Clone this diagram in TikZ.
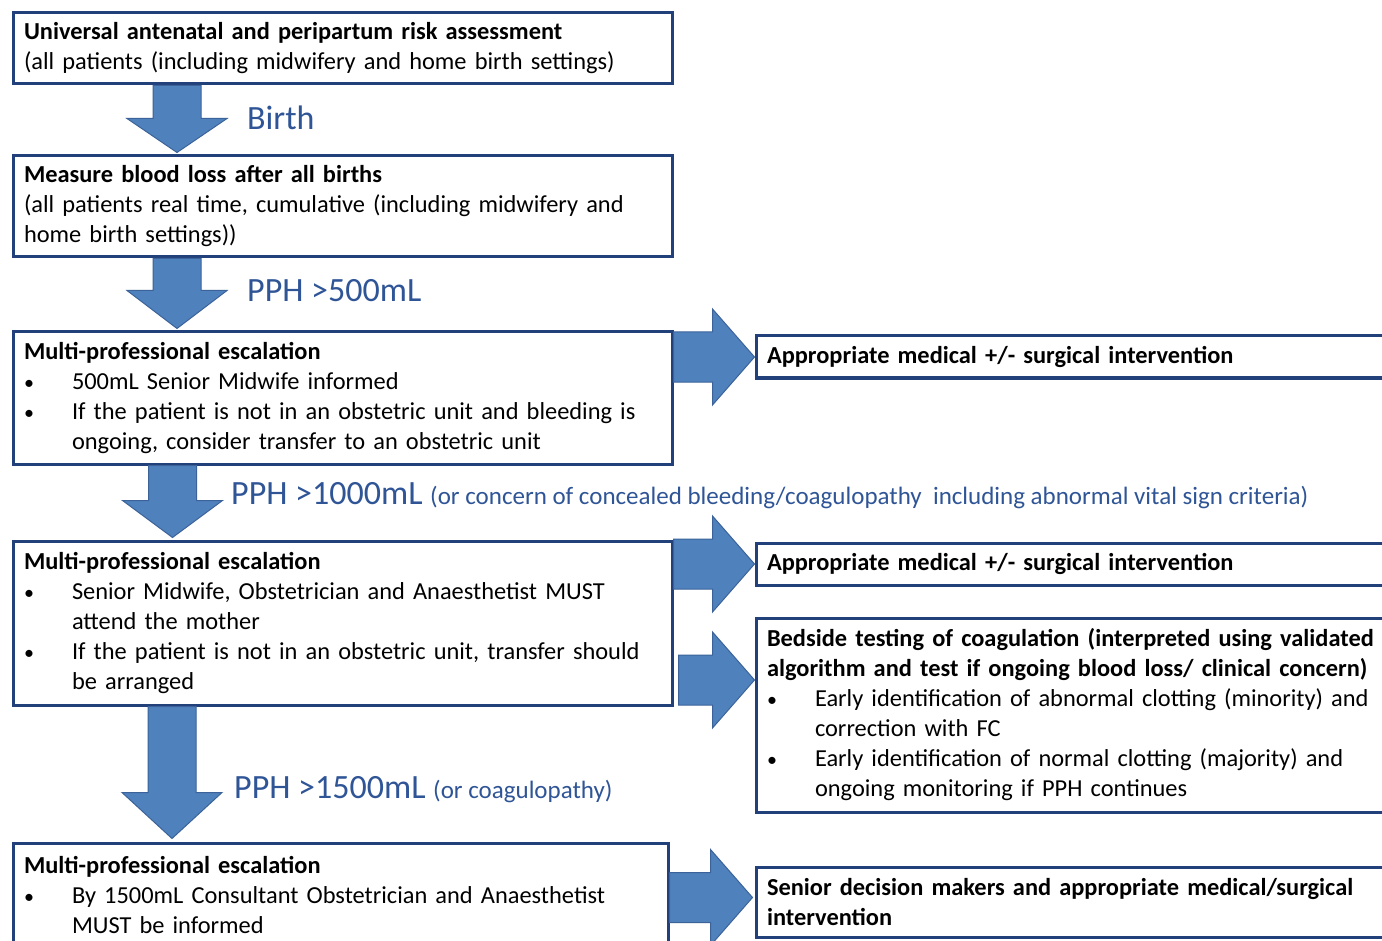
\documentclass[tikz,border=0pt]{standalone}
\usepackage{fontspec}
\setmainfont{Carlito}
\usetikzlibrary{calc}

\definecolor{frameblue}{HTML}{22407A}
\definecolor{arrowfill}{HTML}{4F81BD}
\definecolor{arrowline}{HTML}{3B6399}
\definecolor{labelblue}{HTML}{2F5597}

\tikzset{
  box/.style={draw=frameblue, line width=3pt, fill=white, anchor=north west,
    inner xsep=11pt, inner ysep=0pt, align=left,
    font=\fontsize{24.4}{30}\selectfont},
  blockarrow/.style={fill=arrowfill, draw=arrowline, line width=1pt, line join=miter},
  steplabel/.style={anchor=base west, text=labelblue, inner sep=0pt,
    font=\fontsize{34}{38}\selectfont},
}
% smaller remark after a threshold
\newcommand\remark[1]{{\fontsize{25}{28}\selectfont #1}}
% bullet item and hanging continuation line
\newcommand\bul{\makebox[48pt][l]{\fontsize{20}{20}\selectfont•}}
\newcommand\hang{\hspace*{48pt}}
% downward block arrow: tail, tip, head length
\newcommand\downblock[3]{%
  \filldraw[blockarrow] let \p1=(#1), \p2=(#2) in
    (\x2-24pt,\y1) -- (\x2+24pt,\y1) -- (\x2+24pt,\y2+#3) -- (\x2+50pt,\y2+#3)
    -- (\x2,\y2) -- (\x2-50pt,\y2+#3) -- (\x2-24pt,\y2+#3) -- cycle;}
% rightward block arrow: tail, tip, head length
\newcommand\rightblock[3]{%
  \filldraw[blockarrow] let \p1=(#1), \p2=(#2) in
    (\x1,\y2+25pt) -- (\x2-#3,\y2+25pt) -- (\x2-#3,\y2+48pt) -- (\x2,\y2)
    -- (\x2-#3,\y2-48pt) -- (\x2-#3,\y2-25pt) -- (\x1,\y2-25pt) -- cycle;}

\begin{document}
\begin{tikzpicture}[x=1pt, y=-1pt]
\path[use as bounding box, clip] (0,0) rectangle (1382,941);
\fill[white] (0,0) rectangle (1382,941);

% main column
\node[box, text width=637pt, minimum height=71pt] (b1) at (11.5,11.5)
  {\textbf{Universal antenatal and peripartum risk assessment}\\
   (all patients (including midwifery and home birth settings)};
\node[box, text width=637pt, minimum height=101pt] (b2) at (11.5,154.5)
  {\textbf{Measure blood loss after all births}\\
   (all patients real time, cumulative (including midwifery and\\
   home birth settings))};
\node[box, text width=637pt, minimum height=132pt] (b3) at (11.5,330.5)
  {\textbf{Multi-professional escalation}\\
   \bul 500mL Senior Midwife informed\\
   \bul If the patient is not in an obstetric unit and bleeding is\\
   \hang ongoing, consider transfer to an obstetric unit};
\node[box, text width=637pt, minimum height=164pt] (b4) at (11.5,539.5)
  {\textbf{Multi-professional escalation}\\
   \bul Senior Midwife, Obstetrician and Anaesthetist MUST\\
   \hang attend the mother\\
   \bul If the patient is not in an obstetric unit, transfer should\\
   \hang be arranged};
\node[box, text width=633pt, minimum height=104pt] (b5) at (11.5,841.5)
  {\textbf{Multi-professional escalation}\\
   \bul By 1500mL Consultant Obstetrician and Anaesthetist\\
   \hang MUST be informed};

% action column
\node[box, text width=678pt, minimum height=42pt] (r1) at (754.5,334.5)
  {\textbf{Appropriate medical +/- surgical intervention}};
\node[box, text width=678pt, minimum height=42pt] (r2) at (754.5,541.5)
  {\textbf{Appropriate medical +/- surgical intervention}};
\node[box, text width=678pt, minimum height=194pt] (r3) at (754.5,616.5)
  {\textbf{Bedside testing of coagulation (interpreted using validated}\\
   \textbf{algorithm and test if ongoing blood loss/ clinical concern)}\\
   \bul Early identification of abnormal clotting (minority) and\\
   \hang correction with FC\\
   \bul Early identification of normal clotting (majority) and\\
   \hang ongoing monitoring if PPH continues};
\node[box, text width=678pt, minimum height=70pt] (r4) at (754.5,865.5)
  {\textbf{Senior decision makers and appropriate medical/surgical}\\
   \textbf{intervention}};

% tips of the block arrows
\coordinate (d1tip) at ($(b2.north west)+(165.5,-2)$);
\coordinate (d2tip) at ($(b3.north west)+(165.5,-2)$);
\coordinate (d3tip) at ($(b4.north west)+(161,-2)$);
\coordinate (d4tip) at ($(b5.north west)+(160.5,-3)$);
\coordinate (s1tip) at (r1.west);
\coordinate (s2tip) at (r2.west);
\coordinate (s3tip) at ($(r3.north west)+(0,63.5)$);
\coordinate (s4tip) at ($(r4.north west)+(-2,32)$);
\coordinate (s3tail) at ($(b4.east)+(5,0)$);

% downward steps
\downblock{b1.south}{d1tip}{34pt}
\downblock{b2.south}{d2tip}{38pt}
\downblock{b3.south}{d3tip}{37pt}
\downblock{b4.south}{d4tip}{46pt}

% sideways steps
\rightblock{b3.east}{s1tip}{42pt}
\rightblock{b4.east}{s2tip}{42pt}
\rightblock{s3tail}{s3tip}{42pt}
\rightblock{b5.east}{s4tip}{42pt}

% thresholds
\node[steplabel] (lbirth) at (247,130) {Birth};
\node[steplabel] (l500) at (247,302) {PPH >500mL};
\node[steplabel] (l1000) at (231,504) {PPH >1000mL \remark{(or concern of concealed bleeding/coagulopathy\ \ including abnormal vital sign criteria)}};
\node[steplabel] (l1500) at (234,798) {PPH >1500mL \remark{(or coagulopathy)}};
\end{tikzpicture}
\end{document}
